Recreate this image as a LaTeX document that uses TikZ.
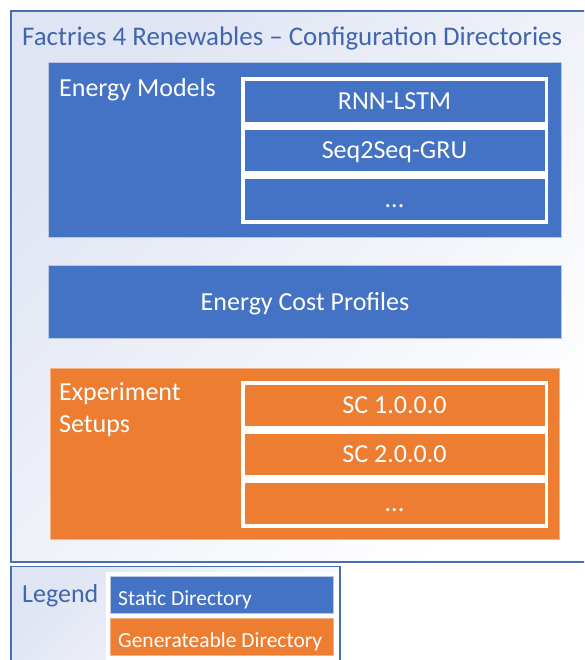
\documentclass[tikz,border=0pt]{standalone}
\usepackage{fontspec}
\setmainfont{Carlito}
\definecolor{officeblue}{HTML}{4472C4}
\definecolor{officeorange}{HTML}{ED7D31}
\definecolor{framecol}{HTML}{4A6EB4}
\definecolor{titlecol}{HTML}{3F66AE}
\definecolor{tint}{HTML}{E0E5F3}
\definecolor{edgecol}{HTML}{B9C7E3}
\begin{document}
\begin{tikzpicture}[x=1pt,y=-1pt,
  frame/.style={draw=framecol, line width=1.5pt, top color=tint, bottom color=white, shading angle=45},
  dirbox/.style={draw=edgecol, line width=0.8pt, inner sep=0pt, outer sep=0pt, anchor=north west},
  staticdir/.style={dirbox, fill=officeblue},
  gendir/.style={dirbox, fill=officeorange, draw=officeorange!60!white},
  listbox/.style={fill=white, inner sep=0pt, outer sep=0pt, anchor=north west,
    minimum width=307pt, minimum height=147pt},
  entry/.style={inner sep=0pt, outer sep=0pt, anchor=north west, text=white,
    minimum width=300pt, minimum height=41pt, text height=16.5pt, text depth=0pt,
    font=\fontsize{26}{30}\selectfont},
  bigtext/.style={inner sep=0pt, anchor=base west, font=\fontsize{26}{32}\selectfont},
  legtext/.style={inner sep=0pt, anchor=base west, text=white, font=\fontsize{21.5}{26}\selectfont}
]
\useasboundingbox (0,0) rectangle (584,660);
\clip (0,0) rectangle (584,660);

% outer frame and legend frame
\path[frame] (11,11) rectangle (600,562);
\path[frame] (11,566.5) rectangle (340,690);

\node[bigtext, text=titlecol, font=\fontsize{26.9}{32}\selectfont] (title) at (22,46) {Factries 4 Renewables – Configuration Directories};

% Energy Models (static)
\node[staticdir, minimum width=513pt, minimum height=175pt] (models) at (48.5,62) {};
\node[bigtext, text=white] (modelslbl) at (59,97) {Energy Models};
\node[listbox] (modellist) at (241,77) {};
\node[entry, fill=officeblue] (m1) at (244.5,81) {RNN-LSTM};
\node[entry, fill=officeblue] (m2) at (244.5,130) {Seq2Seq-GRU};
\node[entry, fill=officeblue] (m3) at (244.5,179) {...};

% Energy Cost Profiles (static)
\node[staticdir, minimum width=513pt, minimum height=73pt, text=white,
  text height=16.5pt, text depth=0pt, font=\fontsize{26}{30}\selectfont] (cost) at (48.5,265.5) {Energy Cost Profiles};

% Experiment Setups (generateable)
\node[gendir, minimum width=509pt, minimum height=171pt] (setups) at (50,368) {};
\node[bigtext, text=white] (setupslbl1) at (59,400.5) {Experiment};
\node[bigtext, text=white] (setupslbl2) at (59,432.5) {Setups};
\node[listbox] (setuplist) at (241,380.5) {};
\node[entry, fill=officeorange] (s1) at (244.5,384.5) {SC 1.0.0.0};
\node[entry, fill=officeorange] (s2) at (244.5,433.5) {SC 2.0.0.0};
\node[entry, fill=officeorange] (s3) at (244.5,482.5) {...};

% Legend
\node[bigtext, text=titlecol] (legendlbl) at (22,602) {Legend};
\node[fill=white, inner sep=0pt, anchor=north west, minimum width=231pt, minimum height=90pt] (legpanel) at (106,572) {};
\node[staticdir, minimum width=223pt, minimum height=37pt] (legstatic) at (110,576) {};
\node[legtext] (legstatictxt) at (118,605) {Static Directory};
\node[gendir, minimum width=223pt, minimum height=37pt] (leggen) at (110,618) {};
\node[legtext] (leggentxt) at (118,647) {Generateable Directory};
\end{tikzpicture}
\end{document}
